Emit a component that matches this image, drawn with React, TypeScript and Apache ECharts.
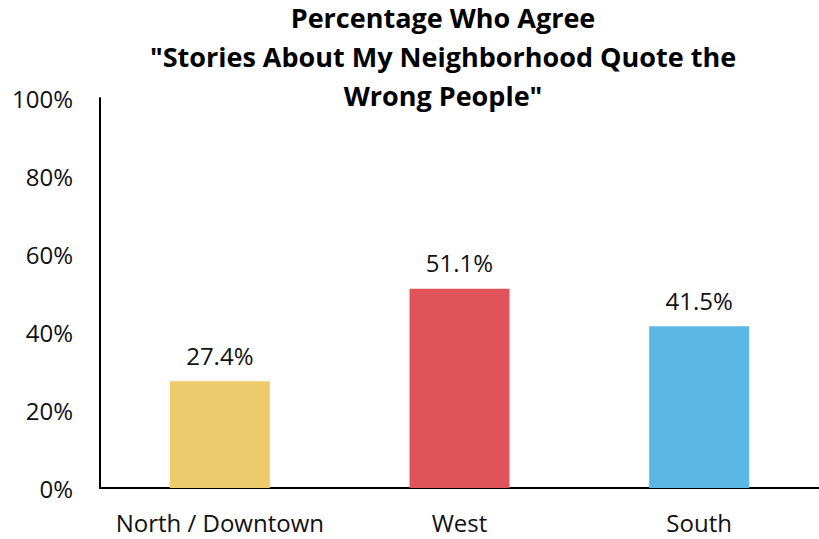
import React, { useEffect, useRef } from "react";
import * as echarts from "echarts";

const categories = ["North / Downtown", "West", "South"];
const values = [27.4, 51.1, 41.5];
const barColors = ["#EDCA6B", "#E0535A", "#5DB7E3"];
const titleLines = ["Percentage Who Agree", "\"Stories About My Neighborhood Quote the", "Wrong People\""];
const yTicks = [0, 20, 40, 60, 80, 100];

const FONT = "Open Sans";

export default function App() {
  const ref = useRef<HTMLDivElement>(null);
  useEffect(() => {
    if (!ref.current) return;
    const chart = echarts.init(ref.current, undefined, { renderer: "svg" });
    chart.setOption({
      animation: false,
      title: {
        text: titleLines.join("\n"),
        left: 443,
        top: -2,
        padding: 0,
        textAlign: "center",
        textStyle: {
          fontFamily: FONT,
          fontWeight: "bold",
          fontSize: 27,
          lineHeight: 39,
          color: "#000",
        },
      },
      grid: { left: 100, top: 98, width: 732, height: 390, containLabel: false },
      xAxis: {
        type: "category",
        data: categories,
        axisLine: { lineStyle: { color: "#000", width: 2 } },
        axisTick: { show: false },
        axisLabel: {
          fontFamily: FONT,
          fontSize: 24,
          color: "#111",
          margin: 22,
          interval: 0,
          hideOverlap: false,
        },
      },
      yAxis: {
        type: "value",
        min: yTicks[0],
        max: yTicks[yTicks.length - 1],
        interval: 20,
        splitLine: { show: false },
        axisLine: { show: true, lineStyle: { color: "#000", width: 2 } },
        axisTick: { show: false },
        axisLabel: {
          fontFamily: FONT,
          fontSize: 24,
          color: "#111",
          margin: 27,
          formatter: (v: number) => `${v}%`,
        },
      },
      series: [
        {
          type: "bar",
          barWidth: 100,
          data: values.map((v, i) => ({ value: v, itemStyle: { color: barColors[i] } })),
          label: {
            show: true,
            position: "top",
            distance: 14,
            fontFamily: FONT,
            fontSize: 24,
            color: "#111",
            formatter: (p: any) => `${p.value.toFixed(1)}%`,
          },
        },
      ],
    });
    return () => chart.dispose();
  }, []);
  return (
    <div
      ref={ref}
      style={{ position: "fixed", left: 0, top: 0, width: 819, height: 539, background: "#fff" }}
    />
  );
}
